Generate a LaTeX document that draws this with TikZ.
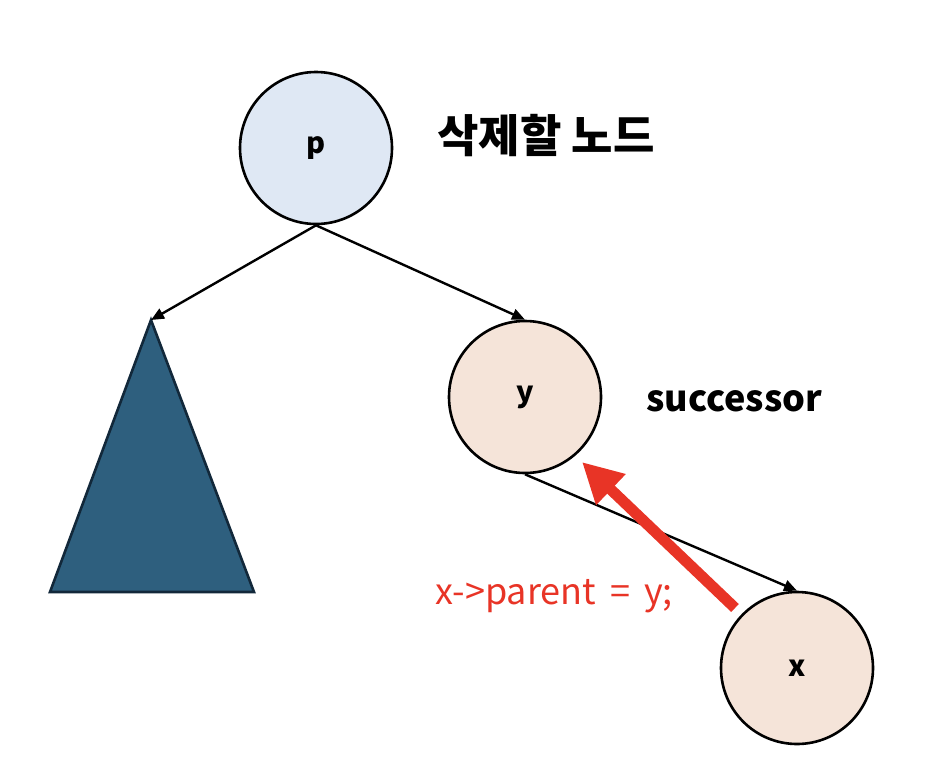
\documentclass[tikz,border=0pt]{standalone}
\usepackage{fontspec}
\setmainfont{Noto Sans CJK KR}
\usetikzlibrary{arrows.meta}
\definecolor{pfill}{HTML}{DFE8F4}
\definecolor{nfill}{HTML}{F5E4D9}
\definecolor{tfill}{HTML}{2E5F7E}
\definecolor{tline}{HTML}{12283A}
\definecolor{redc}{HTML}{E83426}
\tikzset{
  treenode/.style={circle,draw=black,line width=2.6pt,minimum size=152pt,inner sep=0pt,font=\fontsize{29}{32}\selectfont\bfseries},
  edge/.style={draw=black,line width=2.4pt,-{Triangle[length=13pt,width=11pt]}},
  lbl/.style={font=\fontsize{36}{40}\selectfont\bfseries,anchor=west,inner sep=0pt},
}
\begin{document}
\begin{tikzpicture}[x=1pt,y=-1pt]
\useasboundingbox (0,0) rectangle (934,780);
\node[treenode,fill=pfill] (p) at (316,148) {p};
\node[treenode,fill=nfill] (y) at (525,397) {y};
\node[treenode,fill=nfill] (x) at (797,668) {x};
\coordinate (apex) at (151,320);
\coordinate (bl) at (50,592);
\coordinate (br) at (254,592);
\draw[fill=tfill,draw=tline,line width=2.6pt,line join=miter] (apex) -- (bl) -- (br) -- cycle;
\draw[edge] (p.south) -- (apex);
\draw[edge] (p.south) -- (y.north);
\draw[edge] (y.south) -- (x.north);
\coordinate (rs) at (735,608);
\coordinate (re) at (582,462);
\draw[redc,line width=11pt,-{Triangle[length=40pt,width=40pt]}] (rs) -- (re);
\node[lbl,font=\fontsize{45}{48}\selectfont\bfseries] (del) at (437,136) {삭제할 노드};
\node[lbl] (succ) at (646,401) {successor};
\node[anchor=west,inner sep=0pt,text=redc,font=\fontsize{36}{40}\selectfont] (code) at (435,596) {x->parent\hspace{14pt}=\hspace{14pt}y;};
\end{tikzpicture}
\end{document}
